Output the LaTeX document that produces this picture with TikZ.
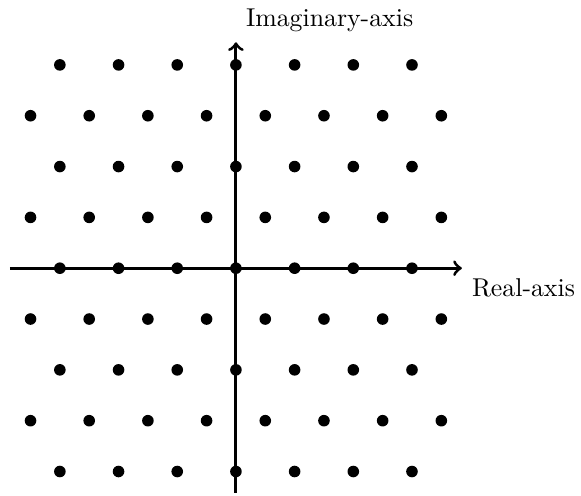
\documentclass[tikz,border=0pt]{standalone}
\begin{document}
\begin{tikzpicture}[x=0.8cm,y=0.8cm,
  latdot/.style={circle,fill=black,inner sep=0pt,minimum size=4.5pt},
  axisline/.style={very thick,->}]
\useasboundingbox (-4.02,-3.87) rectangle (5.88,4.57);
\coordinate (xl) at (-3.85,0);
\coordinate (xr) at (3.85,0);
\coordinate (yb) at (0,-3.83);
\coordinate (yt) at (0,3.85);
\draw[axisline] (xl) -- (xr) node[below right] (rl) {Real-axis};
\draw[axisline] (yb) -- (yt) node[above right] (il) {Imaginary-axis};
\foreach \n in {-4,...,4}{
  \pgfmathsetmacro{\yy}{\n*0.8660254}
  \ifodd\n
    \foreach \m in {-3.5,-2.5,...,3.5}{
      \node[latdot] (p\n\m) at (\m,\yy) {};
    }
  \else
    \foreach \m in {-3,...,3}{
      \node[latdot] (p\n\m) at (\m,\yy) {};
    }
  \fi
}
\end{tikzpicture}
\end{document}
